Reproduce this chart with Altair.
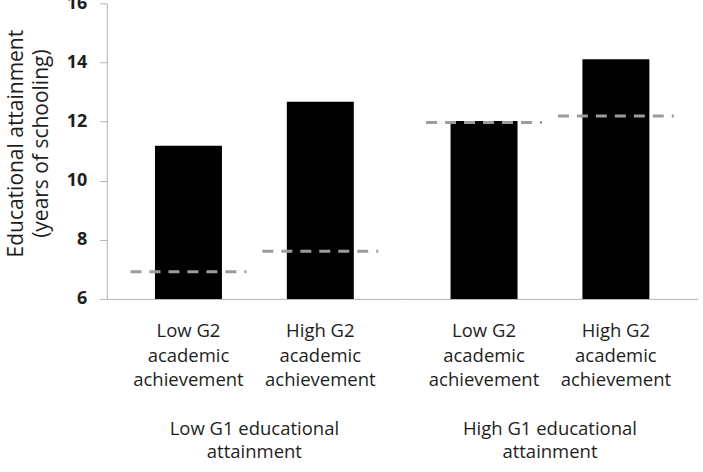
import altair as alt
import pandas as pd

# ---- data ----
groups = ["Low G1 educational|attainment", "High G1 educational|attainment"]
subgroups = ["Low G2|academic|achievement", "High G2|academic|achievement"]
bar_group = [groups[0], groups[0], groups[1], groups[1]]
bar_sub = [subgroups[0], subgroups[1], subgroups[0], subgroups[1]]
bar_values = [11.18, 12.67, 12.02, 14.11]
dash_values = [6.92, 7.61, 11.97, 12.19]
y_ticks = [6, 8, 10, 12, 14, 16]
y_title = ["Educational attainment", "(years of schooling)"]

df = pd.DataFrame({
    "group": bar_group,
    "sub": bar_sub,
    "attainment": bar_values,
    "expected": dash_values,
})

FONT = "Open Sans"
TEXT = "#1e1e1e"
AXIS_GRAY = "#b4b4b4"

x_scale = alt.Scale(paddingInner=0.492, paddingOuter=0.365)
y_scale = alt.Scale(domain=[y_ticks[0], y_ticks[-1]], nice=False, zero=False)

x_axis = alt.Axis(
    title=None, labelExpr="split(datum.label, '|')", labelAngle=0, ticks=False,
    labelPadding=23, labelFont=FONT, labelFontSize=18.5, labelColor=TEXT,
    labelLineHeight=24.5, labelBaseline="top", domainColor=AXIS_GRAY, grid=False,
)
y_axis = alt.Axis(
    values=y_ticks, title=y_title, grid=False, domainColor=AXIS_GRAY, tickColor=AXIS_GRAY,
    tickSize=7, labelFont=FONT, labelFontSize=18, labelFontWeight="bold", labelColor=TEXT,
    labelPadding=13, titleFont=FONT, titleFontSize=21, titleFontWeight="normal",
    titleColor=TEXT, titleLineHeight=25, titlePadding=15, titleY=140,
)

bars = alt.Chart().mark_bar(color="black").encode(
    x=alt.X("sub:N", sort=subgroups, scale=x_scale, axis=x_axis),
    y=alt.Y("attainment:Q", scale=y_scale, axis=y_axis),
    y2=alt.datum(y_ticks[0]),
)

dashes = alt.Chart().mark_rule(
    color="#9c9c9c", strokeWidth=3, strokeDash=[11, 8], xOffset=-24.5, x2Offset=24.5
).encode(
    x=alt.X("sub:N", sort=subgroups, bandPosition=0),
    x2=alt.X2("sub:N", bandPosition=1),
    y=alt.Y("expected:Q", title=y_title),
)

chart = (
    alt.layer(bars, dashes, data=df)
    .properties(width=295.5, height=296)
    .facet(
        column=alt.Column(
            "group:N", sort=groups, title=None,
            header=alt.Header(
                labelOrient="bottom", labelExpr="split(datum.label, '|')",
                labelFont=FONT, labelFontSize=18.5, labelColor=TEXT,
                labelLineHeight=23, labelBaseline="top", labelPadding=31,
            ),
        ),
        spacing=0,
    )
    .properties(padding={"left": 5, "top": -6, "right": 5, "bottom": 5})
    .configure_view(strokeWidth=0)
)

chart.save("out.html", embed_options={"renderer": "svg", "actions": False})
